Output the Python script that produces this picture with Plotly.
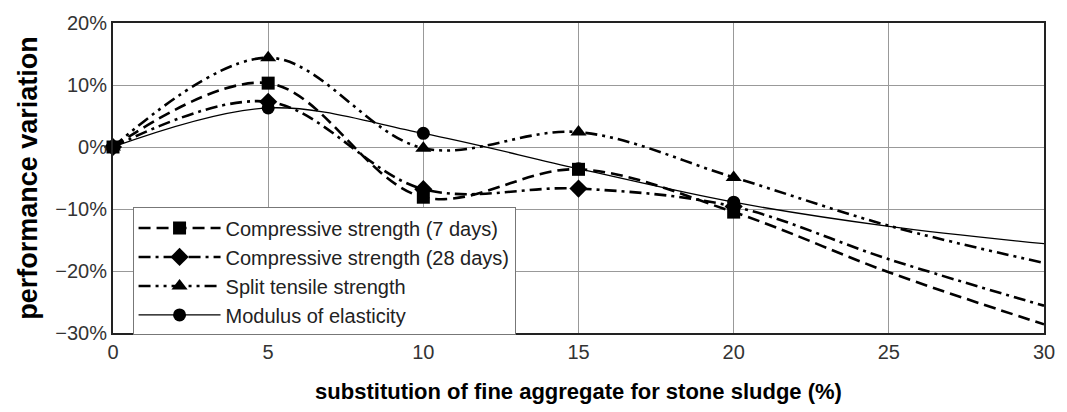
import plotly.graph_objects as go

# substitution level (%) of fine aggregate used for the curves
substitution = [0, 5, 10, 15, 20, 25, 30]
# levels actually tested (marked points)
tested = [0, 5, 10, 15, 20]

comp_7d = [0.0, 10.3, -8.1, -3.6, -10.5, -20.2, -28.6]
comp_28d = [0.0, 7.3, -6.8, -6.7, -9.6, -18.1, -25.6]
split_tensile = [0.0, 14.4, -0.2, 2.4, -4.9, -12.7, -18.7]
modulus = [0.0, 6.3, 2.2, -3.5, -8.9, -12.8, -15.6]

series_names = [
    "Compressive strength (7 days)",
    "Compressive strength (28 days)",
    "Split tensile strength",
    "Modulus of elasticity",
]
series_values = [comp_7d, comp_28d, split_tensile, modulus]
symbols = ["square", "diamond", "triangle-up", "circle"]
marker_sizes = [13, 14, 14, 13]
dashes = ["12px,6px", "12px,5px,3px,5px", "12px,5px,3px,5px,3px,5px", "solid"]
widths = [2.6, 2.6, 2.6, 1.3]

fig = go.Figure()
n_tested = len(tested)
for i, (name, vals) in enumerate(zip(series_names, series_values)):
    pct = [v / 100 for v in vals]
    line = dict(color="black", width=widths[i], dash=dashes[i])
    marker = dict(symbol=symbols[i], size=marker_sizes[i], color="black",
                  opacity=1, line=dict(width=0))
    # smoothed curve over the whole range
    fig.add_trace(go.Scatter(
        x=substitution, y=pct, mode="lines", showlegend=False,
        legendgroup=f"g{i}", hoverinfo="skip",
        line=dict(line, shape="spline", smoothing=1.0),
    ))
    # tested points
    fig.add_trace(go.Scatter(
        x=tested, y=pct[:n_tested], mode="markers", showlegend=False,
        legendgroup=f"g{i}", marker=marker, name=name, cliponaxis=False,
    ))
    # legend entry (line with marker)
    fig.add_trace(go.Scatter(
        x=[None], y=[None], mode="lines+markers", name=name,
        legendgroup=f"g{i}", line=line, marker=marker,
    ))

tick_font = dict(family="Liberation Sans, Arial, sans-serif", size=20, color="#333")

fig.update_layout(
    width=1067, height=412,
    margin=dict(l=113, r=18, t=19, b=77),
    paper_bgcolor="white", plot_bgcolor="white",
    font=dict(family="Liberation Sans, Arial, sans-serif", color="black"),
    showlegend=True,
    legend=dict(
        x=0.021, y=0.405, xanchor="left", yanchor="top",
        bgcolor="white", bordercolor="#777", borderwidth=1,
        font=dict(size=20, color="#222"),
        traceorder="grouped", tracegroupgap=0,
        itemwidth=82,
    ),
    xaxis=dict(
        range=[0, 30], tickvals=[0, 5, 10, 15, 20, 25, 30],
        showgrid=True, gridcolor="#999", gridwidth=1,
        showline=True, linecolor="#222", linewidth=2, mirror=True,
        zeroline=False, ticks="", tickfont=tick_font,
        title=dict(text="<b>substitution of fine aggregate for stone sludge (%)</b>",
                   font=dict(size=22, color="black"), standoff=22),
    ),
    yaxis=dict(
        range=[-0.30, 0.20], tickvals=[-0.3, -0.2, -0.1, 0, 0.1, 0.2],
        tickformat=".0%",
        showgrid=True, gridcolor="#999", gridwidth=1,
        showline=True, linecolor="#222", linewidth=2, mirror=True,
        zeroline=False, ticks="", tickfont=tick_font,
        title=dict(text="<b>performance variation</b>",
                   font=dict(size=27, color="black"), standoff=10),
    ),
)

fig.write_html("out.html")
